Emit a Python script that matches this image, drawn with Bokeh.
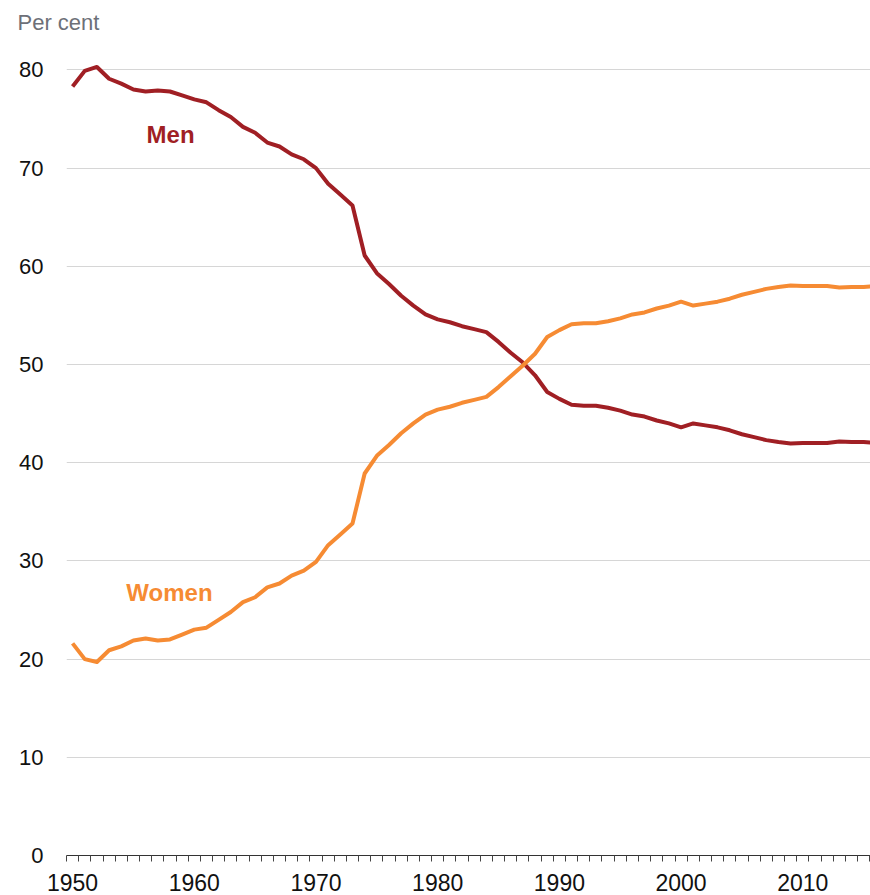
from bokeh.plotting import figure
from bokeh.models import Range1d, FixedTicker, Title
from bokeh.core.properties import value
from bokeh.embed import file_html
from bokeh.resources import INLINE

years = list(range(1950, 2017))

men = [78.3, 79.9, 80.3, 79.1, 78.6, 78.0, 77.8, 77.9, 77.8, 77.4,
       77.0, 76.7, 75.9, 75.2, 74.2, 73.6, 72.6, 72.2, 71.4, 70.9,
       70.0, 68.4, 67.3, 66.2, 61.1, 59.3, 58.2, 57.0, 56.0, 55.1,
       54.6, 54.3, 53.9, 53.6, 53.3, 52.3, 51.2, 50.2, 48.9, 47.2,
       46.5, 45.9, 45.8, 45.8, 45.6, 45.3, 44.9, 44.7, 44.3, 44.0,
       43.6, 44.0, 43.8, 43.6, 43.3, 42.9, 42.6, 42.3, 42.1, 41.95,
       42.0, 42.0, 42.0, 42.15, 42.1, 42.1, 42.0]

women = [21.6, 20.0, 19.7, 20.9, 21.3, 21.9, 22.1, 21.9, 22.0, 22.5,
         23.0, 23.2, 24.0, 24.8, 25.8, 26.3, 27.3, 27.7, 28.5, 29.0,
         29.9, 31.6, 32.7, 33.8, 38.9, 40.7, 41.8, 43.0, 44.0, 44.9,
         45.4, 45.7, 46.1, 46.4, 46.7, 47.7, 48.8, 49.9, 51.1, 52.8,
         53.5, 54.1, 54.2, 54.2, 54.4, 54.7, 55.1, 55.3, 55.7, 56.0,
         56.4, 56.0, 56.2, 56.4, 56.7, 57.1, 57.4, 57.7, 57.9, 58.05,
         58.0, 58.0, 58.0, 57.85, 57.9, 57.9, 58.0]

y_ticks = [0, 10, 20, 30, 40, 50, 60, 70, 80]
x_ticks = [1950, 1960, 1970, 1980, 1990, 2000, 2010]

MEN_COLOR = "#a01f24"
WOMEN_COLOR = "#f68b33"
FONT = "Liberation Sans"

p = figure(width=870, height=895, output_backend="svg", toolbar_location=None,
           x_range=Range1d(1949.5, 1949.5 + 804 / 12.17),
           y_range=Range1d(0, 815 / 9.82),
           min_border_left=66, min_border_right=0,
           min_border_top=40, min_border_bottom=40)
p.outline_line_color = None
p.background_fill_color = "white"
p.border_fill_color = "white"

p.line(years, men, line_color=MEN_COLOR, line_width=4, line_join="round")
p.line(years, women, line_color=WOMEN_COLOR, line_width=4, line_join="round")

p.text(x=[1958.05], y=[73.4], text=["Men"], text_font=value(FONT),
       text_font_style="bold", text_font_size="24px", text_color=MEN_COLOR,
       text_align="center", text_baseline="alphabetic")
p.text(x=[1957.96], y=[26.75], text=["Women"], text_font=value(FONT),
       text_font_style="bold", text_font_size="24px", text_color=WOMEN_COLOR,
       text_align="center", text_baseline="alphabetic")

# axes
p.xgrid.grid_line_color = None
p.ygrid.grid_line_color = "#d6d6d6"
p.ygrid.grid_line_width = 1
p.ygrid.ticker = FixedTicker(ticks=y_ticks)

xa = p.xaxis[0]
xa.ticker = FixedTicker(ticks=x_ticks,
                        minor_ticks=[y - 0.5 for y in years])
xa.major_tick_out = 0
xa.major_tick_in = 0
xa.minor_tick_out = 6
xa.minor_tick_in = 0
xa.minor_tick_line_color = "#444444"
xa.axis_line_color = "#333333"
xa.axis_line_width = 1
xa.major_label_text_font = FONT
xa.major_label_text_font_size = "23px"
xa.major_label_text_color = "#111111"
xa.major_label_standoff = 12

ya = p.yaxis[0]
ya.ticker = FixedTicker(ticks=y_ticks)
ya.axis_line_color = None
ya.major_tick_line_color = None
ya.major_tick_out = 0
ya.major_tick_in = 0
ya.minor_tick_line_color = None
ya.minor_tick_out = 0
ya.major_label_text_font = FONT
ya.major_label_text_font_size = "22px"
ya.major_label_text_color = "#111111"
ya.major_label_standoff = 23

p.add_layout(Title(text="Per cent", align="left", offset=-49,
                   text_font=FONT, text_font_size="22px",
                   text_font_style="normal", text_color="#6d7078",
                   standoff=11), "above")

open("out.html", "w").write(file_html(p, INLINE))
